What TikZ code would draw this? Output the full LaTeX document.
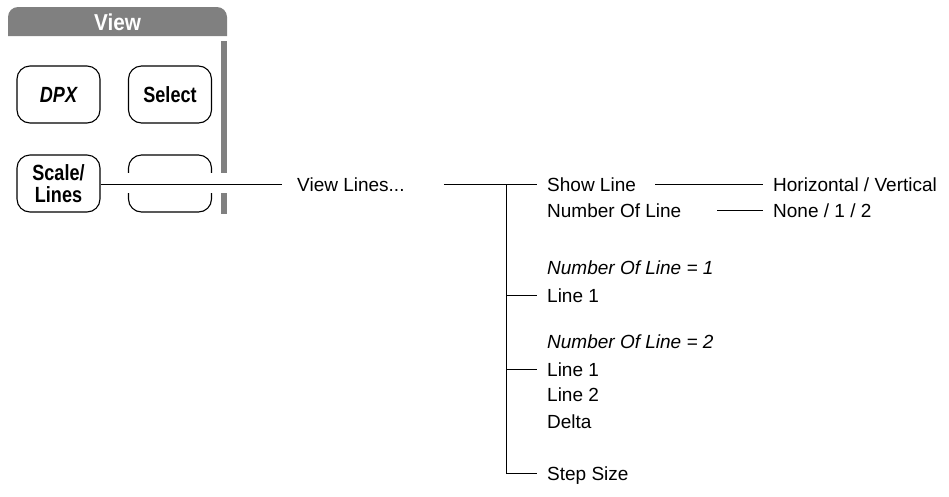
\documentclass[tikz,border=0pt]{standalone}
\usepackage{fontspec}
\setmainfont{Liberation Sans}
\newfontfamily\btnfont[FakeStretch=0.82]{Liberation Sans}
\newfontfamily\ttlfont[FakeStretch=0.9]{Liberation Sans}
\begin{document}
\begin{tikzpicture}[x=1pt,y=-1pt,
  lbl/.style={anchor=west,inner sep=0pt,text height=13.6pt,text depth=0pt,font=\fontsize{19}{23}\selectfont},
  ilbl/.style={lbl,font=\fontsize{19}{23}\selectfont\itshape},
  btn/.style={draw,line width=1.1pt,rounded corners=13pt,minimum width=83pt,minimum height=57pt,inner sep=0pt,
    font=\btnfont\bfseries\fontsize{22}{21.5}\selectfont,align=center},
  conn/.style={line width=1pt}]
\useasboundingbox (0,0) rectangle (949,496);
% title bar
\fill[black!50] (8,36) [rounded corners=10pt] -- (8,7) -- (227,7) [sharp corners] -- (227,36) -- cycle;
\node[text=white,inner sep=0pt,font=\ttlfont\bfseries\fontsize{23}{23}\selectfont] (title) at (117.5,22) {View};
% side bar
\fill[black!50] (221,41) rectangle (227,214);
% buttons
\node[btn] (dpx) at (58.5,94.5) {\itshape DPX};
\node[btn] (sel) at (170,94.5) {Select};
\node[btn] (sl) at (58.5,183.5) {Scale/\\Lines};
\node[btn] (blank) at (170,183.5) {};
% gap around connector
\fill[white] (120,173) rectangle (235,193);
% labels
\node[lbl] (vl) at (297,184.5) {View Lines...};
\node[lbl] (show) at (547,184.5) {Show Line};
\node[lbl] (num) at (547,210.5) {Number Of Line};
\node[lbl] (hv) at (773,184.5) {Horizontal / Vertical};
\node[lbl] (none) at (773,210.5) {None / 1 / 2};
\node[ilbl] (n1) at (547,268) {Number Of Line = 1};
\node[lbl] (l1a) at (547,295.5) {Line 1};
\node[ilbl] (n2) at (547,342) {Number Of Line = 2};
\node[lbl] (l1b) at (547,369.5) {Line 1};
\node[lbl] (l2) at (547,395) {Line 2};
\node[lbl] (delta) at (547,422) {Delta};
\node[lbl] (step) at (547,473.5) {Step Size};
% connectors
\coordinate (tj) at (506.5,184.5);
\draw[conn] (sl.east |- vl.west) -- ([xshift=-15pt]vl.west);
\draw[conn] ([xshift=39pt]vl.east) -- (tj) -- ([xshift=-10pt]show.west);
\draw[conn] (tj) |- ([xshift=-10pt]step.west);
\draw[conn] (tj |- l1a.west) -- ([xshift=-10pt]l1a.west);
\draw[conn] (tj |- l1b.west) -- ([xshift=-10pt]l1b.west);
\draw[conn] ([xshift=19pt]show.east) -- ([xshift=-10pt]hv.west);
\draw[conn] ([xshift=-56pt]none.west) -- ([xshift=-10pt]none.west);
\end{tikzpicture}
\end{document}
